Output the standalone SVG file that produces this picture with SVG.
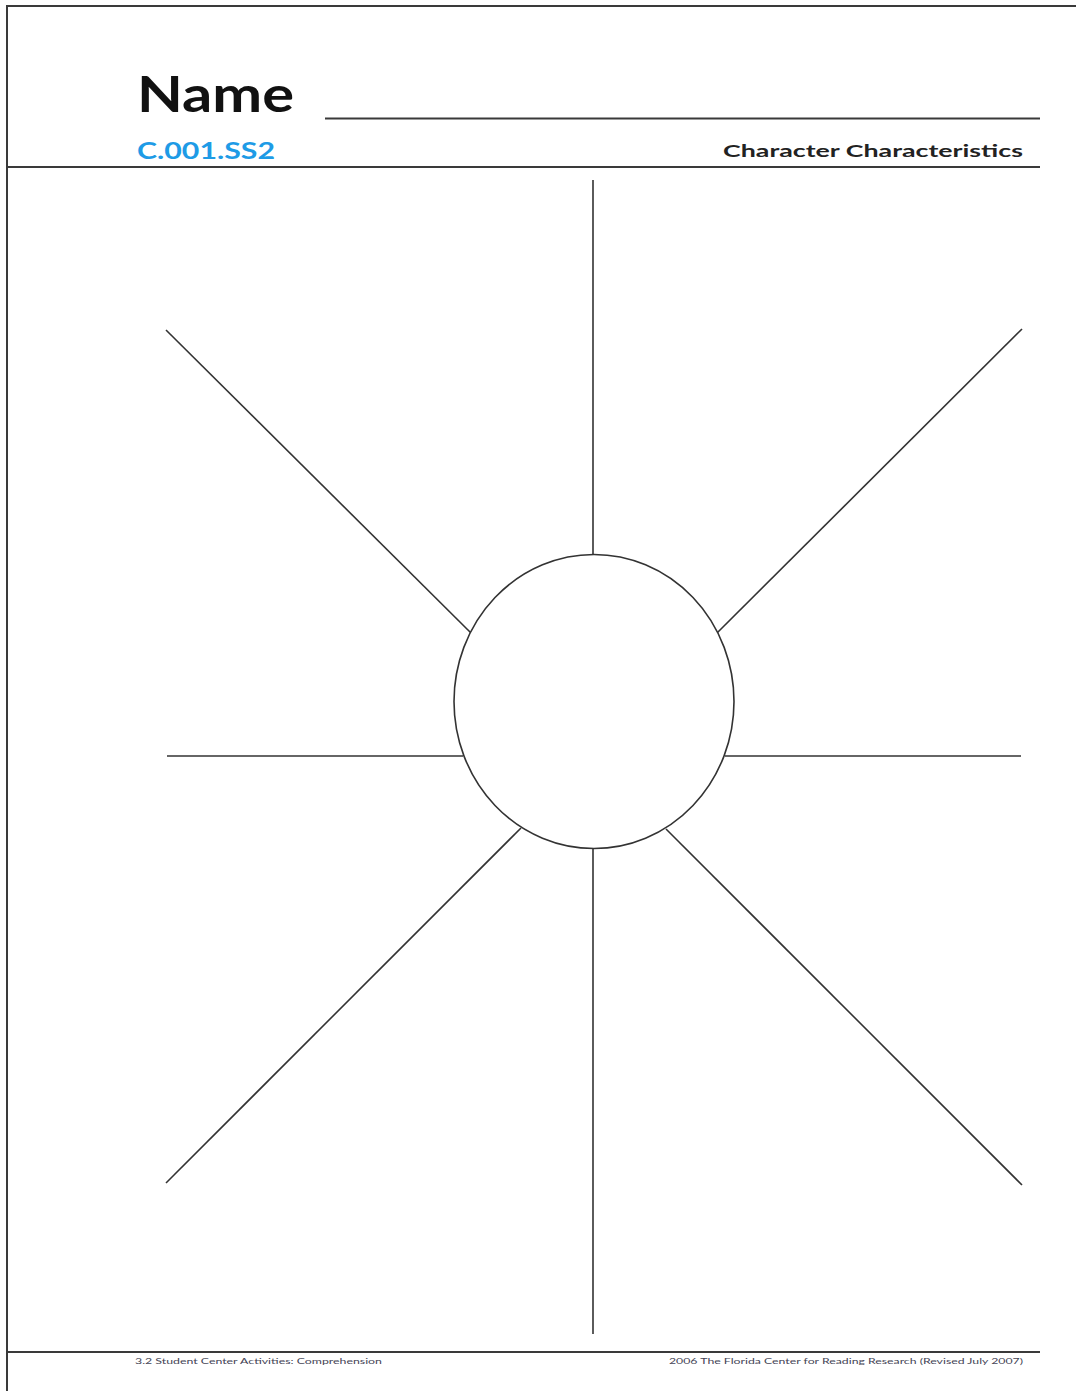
<svg xmlns="http://www.w3.org/2000/svg" width="1076" height="1391" viewBox="0 0 1076 1391">
<style>
.rule{stroke:#3a3a3a;stroke-width:2;fill:none}
.spoke{stroke:#333;stroke-width:1.6;fill:none}
.foot{font-family:"Lato","Liberation Sans",sans-serif;font-size:8px;fill:#445}
</style>
<rect width="1076" height="1391" fill="#fff"/>
<g id="frame">
<path class="rule" d="M7 1391 V6 H1076" stroke-width="2.2"/>
<line class="rule" x1="7" y1="167" x2="1040" y2="167"/>
<line class="rule" x1="7" y1="1352" x2="1040" y2="1352"/>
<line class="rule" x1="325" y1="118.5" x2="1040" y2="118.5"/>
</g>
<g id="header">
<text x="137" y="112" font-family="Lato,'Liberation Sans',sans-serif" font-weight="bold" font-size="50" fill="#111" textLength="157" lengthAdjust="spacingAndGlyphs">Name</text>
<text x="137" y="159" font-family="Lato,'Liberation Sans',sans-serif" font-weight="bold" font-size="22" fill="#1e9be6" textLength="138" lengthAdjust="spacingAndGlyphs">C.001.SS2</text>
<text x="723" y="157" font-family="Lato,'Liberation Sans',sans-serif" font-weight="bold" font-size="17" fill="#222" textLength="300" lengthAdjust="spacingAndGlyphs">Character Characteristics</text>
</g>
<g id="connectors">
<line class="spoke" x1="593" y1="180" x2="593" y2="555"/>
<line class="spoke" x1="593" y1="849" x2="593" y2="1334"/>
<line class="spoke" x1="166" y1="330" x2="471" y2="633"/>
<line class="spoke" x1="1022" y1="329" x2="717" y2="633"/>
<line class="spoke" x1="167" y1="756" x2="463" y2="756"/>
<line class="spoke" x1="725" y1="756" x2="1021" y2="756"/>
<line class="spoke" x1="166" y1="1183" x2="521" y2="828"/>
<line class="spoke" x1="1022" y1="1185" x2="666" y2="829"/>
</g>
<g id="center">
<ellipse cx="594" cy="701.5" rx="140" ry="147" fill="#fff" stroke="#333" stroke-width="1.6"/>
</g>
<g id="footer">
<text class="foot" x="135" y="1364" textLength="247" lengthAdjust="spacingAndGlyphs">3.2 Student Center Activities: Comprehension</text>
<text class="foot" x="669" y="1364" textLength="354" lengthAdjust="spacingAndGlyphs">2006 The Florida Center for Reading Research (Revised July 2007)</text>
</g>
</svg>
